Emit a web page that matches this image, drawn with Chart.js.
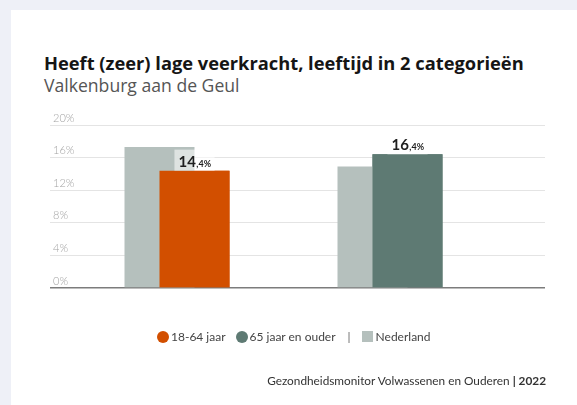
<!DOCTYPE html>
<html lang="nl">
<head>
<meta charset="utf-8">
<script src="https://cdn.jsdelivr.net/npm/chart.js@4.4.0/dist/chart.umd.min.js"></script>
<style>
  html, body { margin: 0; padding: 0; }
  body { width: 577px; height: 405px; background: #eef0f7; position: relative; overflow: hidden; font-family: Lato, 'Open Sans', sans-serif; }
  .card { position: absolute; left: 11px; top: 10px; right: 0; bottom: 0; background: #fff; }
  .title { position: absolute; left: 44px; top: 50px; font-family: 'Open Sans', sans-serif; font-size: 18.3px; font-weight: 700; color: #151515; white-space: nowrap; }
  .subtitle { position: absolute; left: 44px; top: 73px; font-family: 'Open Sans', sans-serif; font-size: 17.6px; font-weight: 400; color: #555; white-space: nowrap; }
  .chart-box { position: absolute; left: 0; top: 0; width: 577px; height: 405px; }
  .legend { position: absolute; left: 157px; top: 329px; display: flex; align-items: center; font-size: 12px; color: #444; white-space: nowrap; }
  .legend .dot { width: 12px; height: 12px; border-radius: 50%; margin-right: 2px; }
  .legend .sq { width: 11px; height: 11px; margin-right: 3px; }
  .legend .sep { margin: 0 11px 0 12px; color: #666; }
  .footer { position: absolute; right: 31px; top: 373px; font-size: 11.8px; color: #333; white-space: nowrap; }
  .footer b { font-weight: 700; }
</style>
</head>
<body>
<div class="card"></div>
<div class="title">Heeft (zeer) lage veerkracht, leeftijd in 2 categorieën</div>
<div class="subtitle">Valkenburg aan de Geul</div>
<div class="chart-box"><canvas id="chart"></canvas></div>
<div class="legend">
  <span class="dot" style="background:#d24f00"></span><span>18-64 jaar</span>
  <span class="dot" style="background:#5e7a73; margin-left:10px"></span><span>65 jaar en ouder</span>
  <span class="sep">|</span>
  <span class="sq" style="background:#b5c0bd"></span><span>Nederland</span>
</div>
<div class="footer">Gezondheidsmonitor Volwassenen en Ouderen <b>| 2022</b></div>

<script>
// ── Data ────────────────────────────────────────────────
const GROUPS        = ['18-64 jaar', '65 jaar en ouder'];
const GROUP_VALUES  = [14.4, 16.4];   // Valkenburg aan de Geul
const NL_VALUES     = [17.3, 14.9];   // Nederland
const GROUP_COLORS  = ['#d24f00', '#5e7a73'];
const NL_COLOR      = '#b5c0bd';
const Y_TICKS       = [0, 4, 8, 12, 16, 20];

const toPoints = vals => vals.map((v, i) => ({ x: i + 1, y: v }));

// Age-group bars overlap the Nederland bars; draw them again on top,
// then write the value above each one.
const frontBars = {
  id: 'frontBars',
  afterDatasetsDraw(chart) {
    const ctx = chart.ctx;
    const meta = chart.getDatasetMeta(1);
    meta.data.forEach(bar => bar.draw(ctx));

    meta.data.forEach((bar, i) => {
      const [whole, dec] = GROUP_VALUES[i].toFixed(1).split('.');
      const big = 'bold 15px Lato, sans-serif';
      const small = 'bold 9px Lato, sans-serif';
      ctx.save();
      ctx.font = big;
      const w1 = ctx.measureText(whole).width;
      ctx.font = small;
      const tail = ',' + dec + '%';
      const w2 = ctx.measureText(tail).width;
      const left = bar.x - (w1 + w2) / 2;
      const base = bar.y - 4;
      ctx.fillStyle = 'rgba(255,255,255,0.55)';
      ctx.fillRect(left - 4, bar.y - 21, w1 + w2 + 8, 21);
      ctx.fillStyle = '#1e1e1e';
      ctx.textBaseline = 'alphabetic';
      ctx.font = big;
      ctx.fillText(whole, left, base);
      ctx.font = small;
      ctx.fillText(tail, left + w1 + 0.5, base);
      ctx.restore();
    });
  }
};

new Chart(document.getElementById('chart'), {
  type: 'bar',
  data: {
    datasets: [
      { label: 'Nederland', data: toPoints(NL_VALUES), backgroundColor: NL_COLOR },
      { label: 'Valkenburg aan de Geul', data: toPoints(GROUP_VALUES), backgroundColor: GROUP_COLORS },
    ],
  },
  options: {
    responsive: true, maintainAspectRatio: false, animation: false,
    categoryPercentage: 0.3286, barPercentage: 2,
    layout: { padding: { left: 44, right: 32, top: 125, bottom: 117 } },
    plugins: { legend: { display: false }, tooltip: { enabled: false } },
    scales: {
      x: {
        type: 'linear', display: false, offset: false, min: 0.4038, max: 2.7277,
        ticks: { stepSize: 1, includeBounds: false },
      },
      y: {
        min: 0, max: 20,
        border: { display: false },
        grid: {
          drawTicks: false,
          color: c => c.tick.value === 0 ? '#7c7c7c' : '#e4e4e4',
          lineWidth: c => c.tick.value === 0 ? 1.6 : 1,
        },
        afterBuildTicks: axis => { axis.ticks = Y_TICKS.map(v => ({ value: v })); },
        ticks: {
          mirror: true, padding: 3, labelOffset: -7,
          color: '#a3a3a3', font: { family: 'Lato', size: 11, weight: 300 },
          callback: v => v + '%',
        },
      },
    },
  },
  plugins: [frontBars],
});
</script>
</body>
</html>
